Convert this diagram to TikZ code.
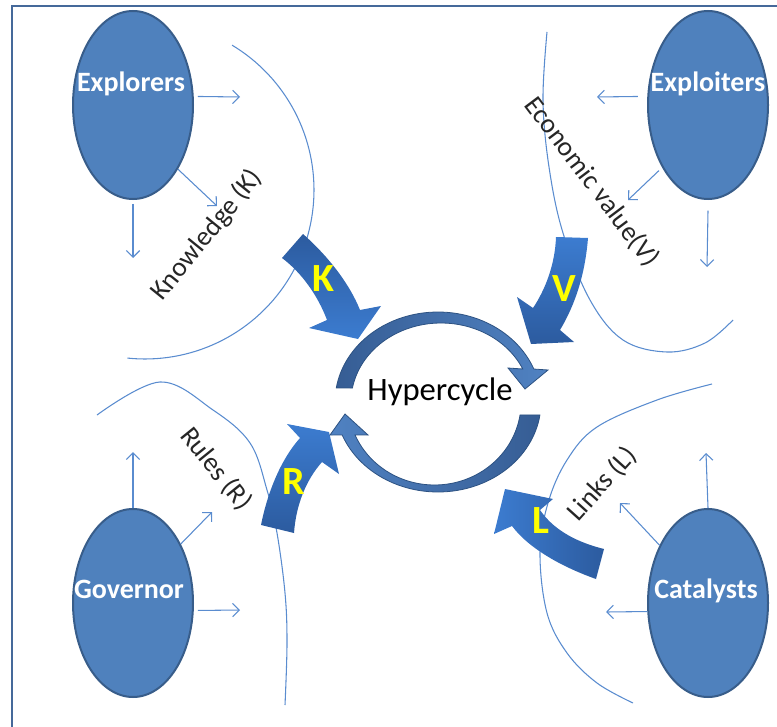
\documentclass[tikz,border=0pt]{standalone}
\usepackage{fontspec}
\setmainfont{Carlito}
\usetikzlibrary{shapes.geometric,arrows.meta}
\definecolor{ellfill}{HTML}{4F81BD}
\definecolor{elldraw}{HTML}{385D8A}
\definecolor{thinc}{HTML}{5A8CCF}
\definecolor{bigdark}{HTML}{2C5B9F}
\definecolor{biglight}{HTML}{3C7CD0}
\definecolor{ringdark}{HTML}{365D94}
\definecolor{ringlight}{HTML}{5082C2}
\definecolor{ringedge}{HTML}{2D5282}
\definecolor{framec}{HTML}{45699A}
\definecolor{labc}{HTML}{262626}
\definecolor{kyellow}{HTML}{FFFF00}
\begin{document}
\begin{tikzpicture}[x=0.75pt,y=-0.75pt,
  frameline/.style={draw=framec, line width=1.5pt},
  ell/.style={ellipse, draw=elldraw, line width=1.5pt, fill=ellfill, minimum width=90pt, minimum height=141pt, inner sep=0pt},
  elltext/.style={text=white, font=\fontsize{21}{25}\selectfont\bfseries, anchor=base, inner sep=0pt},
  thinline/.style={draw=thinc, line width=0.8pt},
  thinarr/.style={draw=thinc, line width=0.8pt, -{Straight Barb[length=5pt,width=10pt]}},
  bigarr/.style={draw=none},
  bigletter/.style={text=kyellow, font=\fontsize{30}{33}\selectfont\bfseries, inner sep=0pt},
  lab/.style={text=labc, font=\fontsize{20.5}{24}\selectfont, inner sep=1pt},
  ringarr/.style={draw=ringedge, line width=0.6pt}
]
\useasboundingbox (0,0) rectangle (777,727);
\draw[frameline] (12,727) -- (12,6) -- (777,6);

% thin boundary curves
\draw[thinline] plot[domain=-59:96, samples=80] ({145+169*cos(\x)},{190+169*sin(\x)});
\draw[thinline] plot[smooth, tension=0.6] coordinates {(547,32) (543,100) (549,167) (563,233) (590,300) (623,340) (667,352) (705,343) (733,320)};
\draw[thinline] plot[smooth, tension=0.6] coordinates {(97,415) (160,382) (213,410) (250,443) (267,490) (277,533) (285,593) (287,643) (285,705)};
\draw[thinline] plot[smooth, tension=0.6] coordinates {(712,384) (657,400) (597,427) (567,460) (548,503) (540,553) (547,613) (567,653) (597,683) (633,703)};

% actors
\node[ell] (explorers) at (133,105) {};
\node[ell] (exploiters) at (708,105) {};
\node[ell] (governor) at (133,603) {};
\node[ell] (catalysts) at (708,603) {};
\node[elltext] (texplorers) at (131,92) {Explorers};
\node[elltext] (texploiters) at (708,92) {Exploiters};
\node[elltext] (tgovernor) at (129,598) {Governor};
\node[elltext] (tcatalysts) at (706,598) {Catalysts};

% free ends of thin arrows
\coordinate (xa) at (240,97);
\coordinate (xb) at (217,206);
\coordinate (xc) at (133,258);
\coordinate (pa) at (597,97);
\coordinate (pb) at (628,200);
\coordinate (pc) at (707,267);
\coordinate (ga) at (133,452);
\coordinate (gb) at (212,512);
\coordinate (gc) at (240,610);
\coordinate (ca) at (706,453);
\coordinate (cb) at (620,503);
\coordinate (cc) at (606,612);

\draw[thinarr] ([xshift=3pt]explorers.8) -- (xa);
\draw[thinarr] (explorers.-55) -- (xb);
\draw[thinarr] ([yshift=-3pt]explorers.south) -- (xc);
\draw[thinarr] ([xshift=-7pt]exploiters.172) -- (pa);
\draw[thinarr] ([shift={(-2pt,-3pt)}]exploiters.233) -- (pb);
\draw[thinarr] ([yshift=-8pt]exploiters.south) -- (pc);
\draw[thinarr] (governor.north) -- (ga);
\draw[thinarr] (governor.51) -- (gb);
\draw[thinarr] ([xshift=3pt]governor.-7) -- (gc);
\draw[thinarr] (catalysts.north) -- (ca);
\draw[thinarr] (catalysts.130) -- (cb);
\draw[thinarr] (catalysts.188) -- (cc);

% big curved arrows
\path[bigarr, top color=bigdark, bottom color=biglight]
  (303,234) .. controls (330,258) and (350,285) .. (360,310) -- (381,306) -- (358,339) -- (309,328) -- (327,320)
  .. controls (318,296) and (302,273) .. (282,258) -- cycle;
\path[bigarr, top color=biglight, bottom color=bigdark]
  (556,237) -- (588,238) .. controls (585,275) and (575,305) .. (560,330) -- (574,342) -- (531,344) -- (517,297) -- (533,308)
  .. controls (545,290) and (555,265) .. (556,237) -- cycle;
\path[bigarr, top color=biglight, bottom color=bigdark]
  (261,525) .. controls (268,490) and (282,458) .. (300,438) -- (287,424) -- (329,432) -- (339,474) -- (322,462)
  .. controls (306,480) and (296,505) .. (294,533) -- cycle;
\path[bigarr, left color=biglight, right color=bigdark]
  (604,549) .. controls (580,543) and (555,532) .. (540,510) -- (553,499) -- (505,489) -- (494,534) -- (512,526)
  .. controls (530,550) and (565,568) .. (596,579) -- cycle;

% hypercycle ring arrows
\path[ringarr, left color=ringdark, right color=ringlight]
  plot[domain=189:338.5, samples=60] ({438+103*cos(\x)},{402+90*sin(\x)})
  -- (548,370) -- (525,389) -- (508,368)
  -- plot[domain=335.3:190.2, samples=60] ({441+90*cos(\x)},{402+79*sin(\x)}) -- cycle;
\path[ringarr, left color=ringlight, right color=ringdark]
  plot[domain=8.3:158.5, samples=60] ({438+103*cos(\x)},{402+90*sin(\x)})
  -- (330,435) -- (345,414) -- (368,435)
  -- plot[domain=156.6:9, samples=60] ({434.5+86.6*cos(\x)},{402+83*sin(\x)}) -- cycle;

% labels
\node[lab, rotate=51] (lk) at (207,235) {Knowledge (K)};
\node[lab, rotate=-53] (lv) at (592,182) {Economic value(V)};
\node[lab, rotate=-51] (lr) at (216,469) {Rules (R)};
\node[lab, rotate=48, fill=white] (ll) at (602,484) {Links (L)};

\node[bigletter] (letK) at (323,279) {K};
\node[bigletter] (letV) at (564,289) {V};
\node[bigletter] (letR) at (294,482) {R};
\node[bigletter] (letL) at (541,521) {L};

\node[font=\fontsize{24.5}{28}\selectfont, anchor=base, inner sep=0pt] (hyp) at (440,400) {Hypercycle};
\end{tikzpicture}
\end{document}
